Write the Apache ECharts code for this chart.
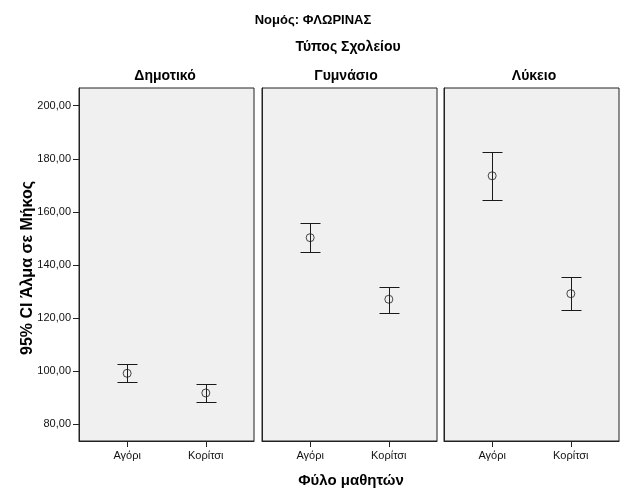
<!DOCTYPE html>
<html>
<head>
<meta charset="utf-8">
<script src="https://cdn.jsdelivr.net/npm/echarts@6/dist/echarts.min.js"></script>
<style>html,body{margin:0;padding:0;background:#fff}#c{width:626px;height:501px}</style>
</head>
<body>
<div id="c"></div>
<script>
// ---- data ----
const schools = ['Δημοτικό', 'Γυμνάσιο', 'Λύκειο'];
const genders = ['Αγόρι', 'Κορίτσι'];
const meanBoys = [99.2, 150.3, 173.6];
const lowerBoys = [95.8, 144.8, 164.6];
const upperBoys = [102.6, 155.7, 182.6];
const meanGirls = [91.8, 127.1, 129.2];
const lowerGirls = [88.5, 122.0, 123.2];
const upperGirls = [95.1, 131.8, 135.5];
const yTicks = [80, 100, 120, 140, 160, 180, 200];
const mainTitle = 'Νομός: ΦΛΩΡΙΝΑΣ';
const facetTitle = 'Τύπος Σχολείου';
const yName = '95% CI Άλμα σε Μήκος';
const xName = 'Φύλο μαθητών';

// ---- layout ----
const FONT = '"Liberation Sans", Arial, sans-serif';
const panelLeft = [79, 262, 444];
const panelWidth = 175;
const panelTop = 88;
const panelHeight = 353;
const yMin = 73.71, yMax = 206.67;
const xMin = -0.612, xMax = 1.612;
const ink = '#111';

const grids = [], xAxes = [], yAxes = [], series = [];
schools.forEach((s, i) => {
  grids.push({
    left: panelLeft[i], top: panelTop, width: panelWidth, height: panelHeight,
    show: true, backgroundColor: '#f0f0f0', borderColor: '#222', borderWidth: 1
  });
  xAxes.push({
    gridIndex: i, type: 'value', min: xMin, max: xMax,
    axisLine: { show: true, onZero: false, lineStyle: { color: '#222', width: 1 } },
    splitLine: { show: false },
    axisTick: { show: true, customValues: [0, 1], length: 6, lineStyle: { color: '#222' } },
    axisLabel: {
      customValues: [0, 1], formatter: v => genders[Math.round(v)],
      fontFamily: FONT, fontSize: 11, color: ink, margin: 9
    }
  });
  yAxes.push({
    gridIndex: i, type: 'value', min: yMin, max: yMax,
    axisLine: { show: true, onZero: false, lineStyle: { color: '#222', width: 1 } },
    splitLine: { show: false },
    axisTick: { show: i === 0, customValues: yTicks, length: 6, lineStyle: { color: '#222' } },
    axisLabel: {
      show: i === 0, customValues: yTicks,
      formatter: v => v.toFixed(2).replace('.', ','),
      fontFamily: FONT, fontSize: 11, color: ink, margin: 8
    }
  });
  series.push({
    type: 'custom', xAxisIndex: i, yAxisIndex: i, clip: false,
    data: [[0, lowerBoys[i], upperBoys[i]], [1, lowerGirls[i], upperGirls[i]]],
    renderItem: (params, api) => {
      const x = api.value(0);
      const pLo = api.coord([x, api.value(1)]);
      const pHi = api.coord([x, api.value(2)]);
      const hw = 10;
      const cx = Math.round(pLo[0]) + 0.5;
      const yLo = Math.round(pLo[1]) + 0.5;
      const yHi = Math.round(pHi[1]) + 0.5;
      const st = { stroke: '#1a1a1a', lineWidth: 1 };
      return {
        type: 'group', children: [
          { type: 'line', shape: { x1: cx, y1: yLo, x2: cx, y2: yHi }, style: st },
          { type: 'line', shape: { x1: cx - hw, y1: yHi, x2: cx + hw, y2: yHi }, style: st },
          { type: 'line', shape: { x1: cx - hw, y1: yLo, x2: cx + hw, y2: yLo }, style: st }
        ]
      };
    }
  });
  series.push({
    type: 'scatter', xAxisIndex: i, yAxisIndex: i,
    data: [[0, meanBoys[i]], [1, meanGirls[i]]],
    symbol: 'circle', symbolSize: 8,
    itemStyle: { color: 'rgba(0,0,0,0)', borderColor: '#1a1a1a', borderWidth: 1 },
    emphasis: { disabled: true }
  });
});

function label(text, x, y, size, rot) {
  return {
    type: 'text', x: x, y: y, rotation: rot || 0,
    style: {
      text: text, fill: '#000', font: 'bold ' + size + 'px ' + FONT,
      align: 'center', verticalAlign: 'middle',
      textAlign: 'center', textVerticalAlign: 'middle'
    }
  };
}
const panelTitleX = [165, 346, 534];
const graphics = [
  label(mainTitle, 313, 20, 13),
  label(facetTitle, 348, 47, 14),
  label(xName, 351, 481, 15),
  label(yName, 28, 268, 16, Math.PI / 2)
];
schools.forEach((s, i) => graphics.push(label(s, panelTitleX[i], 76, 14)));

const chart = echarts.init(document.getElementById('c'), null, { renderer: 'canvas' });
chart.setOption({
  animation: false,
  grid: grids, xAxis: xAxes, yAxis: yAxes, series: series,
  graphic: { elements: graphics }
});
</script>
</body>
</html>
